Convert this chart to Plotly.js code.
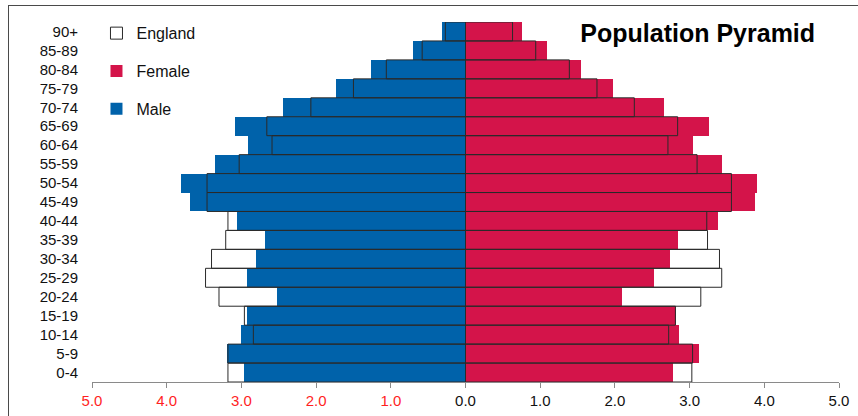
<!DOCTYPE html>
<html>
<head>
<meta charset="utf-8">
<script src="https://cdn.plot.ly/plotly-3.0.1.min.js"></script>
<style>
  html, body { margin: 0; padding: 0; background: #fff; }
  #wrap { position: relative; width: 858px; height: 416px; overflow: hidden; }
  #chart { position: absolute; left: 0; top: 0; width: 858px; height: 416px; }
  #frame { position: absolute; left: 8px; top: 5px; width: 1000px; height: 1000px;
           border-left: 1.5px solid #4a4a4a; border-top: 1.5px solid #4a4a4a;
           pointer-events: none; z-index: 10; }
</style>
</head>
<body>
<div id="wrap">
  <div id="chart"></div>
  <div id="frame"></div>
</div>
<script>
// Age groups, bottom to top
var ageGroups = ['0-4','5-9','10-14','15-19','20-24','25-29','30-34','35-39','40-44',
                 '45-49','50-54','55-59','60-64','65-69','70-74','75-79','80-84','85-89','90+'];

// Local area percentages
var malePct   = [2.97,3.19,3.00,2.93,2.53,2.93,2.80,2.68,3.06,3.69,3.81,3.35,2.91,3.09,2.44,1.74,1.26,0.70,0.31];
var femalePct = [2.78,3.12,2.86,2.82,2.10,2.53,2.74,2.85,3.38,3.88,3.90,3.43,3.05,3.26,2.66,1.98,1.55,1.09,0.75];

// England comparison percentages
var englandMalePct   = [3.18,3.18,2.84,2.96,3.30,3.48,3.40,3.21,3.18,3.46,3.46,3.03,2.59,2.66,2.07,1.50,1.06,0.58,0.27];
var englandFemalePct = [3.03,3.04,2.72,2.81,3.15,3.43,3.40,3.24,3.23,3.56,3.56,3.10,2.71,2.84,2.26,1.76,1.39,0.94,0.63];

// X axis ticks
var xTickVals = [-5,-4,-3,-2,-1,0,1,2,3,4,5];
var xTickLabels = ['5.0','4.0','3.0','2.0','1.0','0.0','1.0','2.0','3.0','4.0','5.0'];

var neg = function (arr) { return arr.map(function (v) { return -v; }); };
var xTickText = xTickVals.map(function (v, i) {
  return v < 0 ? '<span style="color:#ff1f1f">' + xTickLabels[i] + '</span>' : xTickLabels[i];
});

var BLUE = '#0062aa';
var RED = '#d4144a';
var FONT = 'Liberation Sans, Arial, sans-serif';

var traces = [
  { type: 'bar', orientation: 'h', name: 'Male', y: ageGroups, x: neg(malePct),
    marker: { color: BLUE, line: { width: 0 } }, legendgroup: 'm', legendrank: 3 },
  { type: 'bar', orientation: 'h', name: 'Female', y: ageGroups, x: femalePct,
    marker: { color: RED, line: { width: 0 } }, legendgroup: 'f', legendrank: 2 },
  { type: 'bar', orientation: 'h', name: 'England', y: ageGroups, x: neg(englandMalePct),
    marker: { color: 'rgba(255,255,255,0)', line: { color: '#2a2a2a', width: 1 } },
    legendgroup: 'e', legendrank: 1 },
  { type: 'bar', orientation: 'h', name: 'England', y: ageGroups, x: englandFemalePct,
    marker: { color: 'rgba(255,255,255,0)', line: { color: '#2a2a2a', width: 1 } },
    legendgroup: 'e', showlegend: false }
];

var layout = {
  width: 858, height: 416,
  margin: { l: 92, r: 19, t: 22, b: 34, pad: 0 },
  paper_bgcolor: 'rgba(0,0,0,0)',
  plot_bgcolor: 'rgba(0,0,0,0)',
  barmode: 'overlay',
  bargap: 0,
  font: { family: FONT, size: 15, color: '#111' },
  title: { text: '<b>Population Pyramid</b>', font: { family: FONT, size: 25, color: '#000' },
           xref: 'paper', x: 0.968, xanchor: 'right', yref: 'container', y: 1 - 33/416, yanchor: 'middle' },
  xaxis: {
    range: [-5, 5], tickvals: xTickVals, ticktext: xTickText,
    showgrid: false, zeroline: true, zerolinecolor: '#8a8a8a', zerolinewidth: 1,
    showline: true, linecolor: '#8a8a8a', linewidth: 1,
    ticks: 'outside', ticklen: 5, tickcolor: '#8a8a8a', tickwidth: 1,
    tickfont: { family: FONT, size: 15, color: '#111' }, fixedrange: true
  },
  yaxis: {
    type: 'category', categoryorder: 'array', categoryarray: ageGroups,
    range: [-0.5, 18.5],
    showgrid: false, showline: false, zeroline: false,
    ticks: 'outside', ticklen: 10, tickcolor: 'rgba(0,0,0,0)',
    tickfont: { family: FONT, size: 15, color: '#111' }, fixedrange: true
  },
  legend: {
    x: 0.006, xanchor: 'left', y: 1.016, yanchor: 'top',
    traceorder: 'grouped', tracegroupgap: 14,
    font: { family: FONT, size: 16, color: '#111' },
    bgcolor: 'rgba(0,0,0,0)', borderwidth: 0
  },
  showlegend: true
};

Plotly.newPlot('chart', traces, layout, { staticPlot: true, displayModeBar: false });
</script>
</body>
</html>
